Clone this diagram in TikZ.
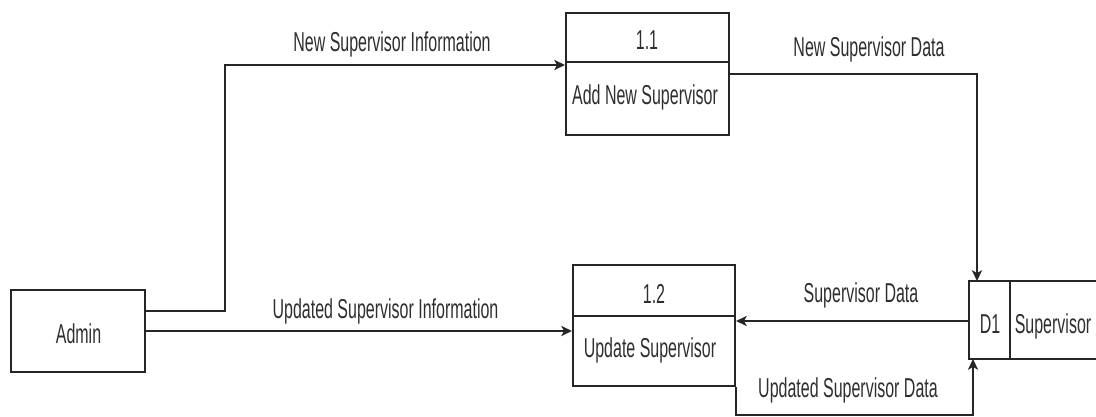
\documentclass[tikz,border=0pt]{standalone}
\usepackage{fontspec}
\setmainfont[FakeStretch=0.585]{Liberation Sans}
\usetikzlibrary{arrows.meta}
\definecolor{ink}{HTML}{262626}
\definecolor{txt}{HTML}{2E2E2E}
\begin{document}
\begin{tikzpicture}[x=0.75pt,y=-0.75pt,
  line width=1.5pt, draw=ink,
  every node/.style={font=\fontsize{20.5}{24}\selectfont, text=txt},
  box/.style={draw=ink, rectangle, inner sep=0pt},
  flow/.style={draw=ink, -{Stealth[length=8pt,width=7.5pt,inset=2pt]}},
  lbl/.style={anchor=base, inner sep=0pt}]
\useasboundingbox (0,0) rectangle (1096,417);

% external entity
\node[box, minimum width=100.5pt, minimum height=61.5pt] (admin) at (78,331) {};
\node[lbl] (admintxt) at (78.5,343) {Admin};

% process 1.1
\node[box, minimum width=122.25pt, minimum height=91.5pt] (p11) at (647.5,74) {};
\draw (p11.west |- 0,62) -- (p11.east |- 0,62);
\node[lbl] (p11id) at (647,50) {1.1};
\node[lbl] (p11name) at (645,105) {Add New Supervisor};

% process 1.2
\node[box, minimum width=121.5pt, minimum height=90.75pt] (p12) at (654,325.5) {};
\draw (p12.west |- 0,316) -- (p12.east |- 0,316);
\node[lbl] (p12id) at (654,303) {1.2};
\node[lbl] (p12name) at (650,357) {Update Supervisor};

% data store D1 (open on the right)
\node[inner sep=0pt, minimum width=94.5pt, minimum height=57pt] (d1) at (1033,320) {};
\draw (d1.north east) -- (d1.north west) -- (d1.south west) -- (d1.south east);
\draw (d1.north west -| 1010,0) -- (d1.south west -| 1010,0);
\node[lbl] (d1id) at (990,333) {D1};
\node[lbl] (d1name) at (1053,333) {Supervisor};

% data flows
\draw[flow] (admin.east |- 0,311) -- (225,311) |- (p11.west |- 0,65);
\node[lbl] (f1) at (392,52) {New Supervisor Information};

\draw[flow] (admin.east |- 0,331) -- (p12.west |- 0,331);
\node[lbl] (f2) at (385.5,318) {Updated Supervisor Information};

\draw[flow] (p11.east |- 0,74) -| (d1.north west -| 977,0);
\node[lbl] (f3) at (869,57) {New Supervisor Data};

\draw[flow] (d1.west |- 0,321) -- (p12.east |- 0,321);
\node[lbl] (f4) at (861,302) {Supervisor Data};

\draw[flow] (p12.south east) -- ++(0,28) -| (d1.south west -| 973,0);
\node[lbl] (f5) at (848,397) {Updated Supervisor Data};
\end{tikzpicture}
\end{document}
